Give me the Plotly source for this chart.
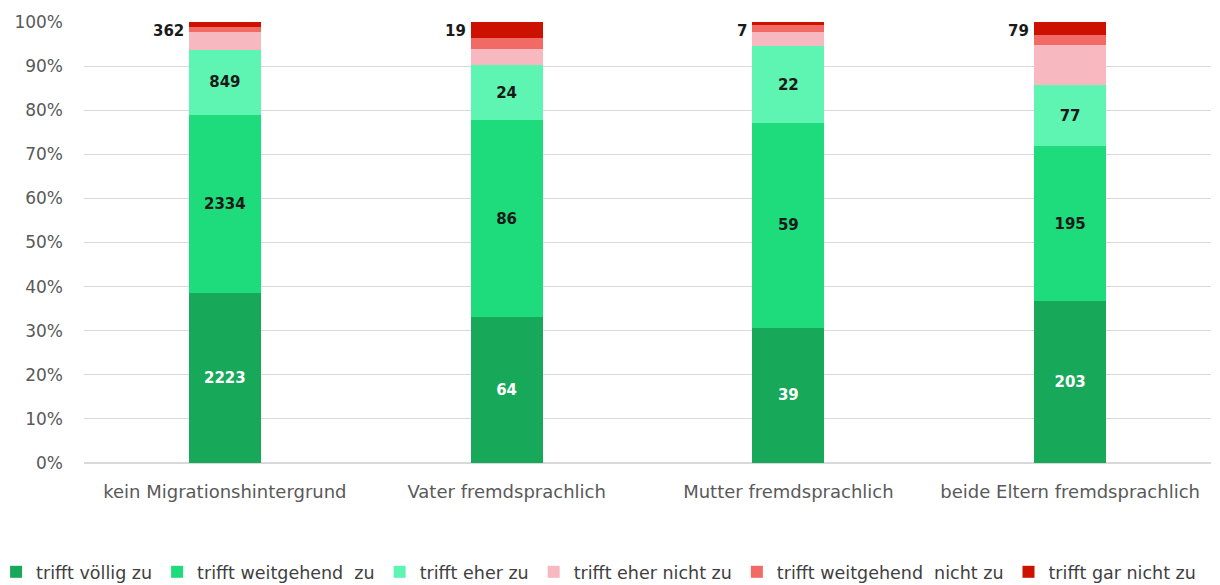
import plotly.graph_objects as go

categories = ["kein Migrationshintergrund", "Vater fremdsprachlich",
              "Mutter fremdsprachlich", "beide Eltern fremdsprachlich"]
series_names = ["trifft völlig zu", "trifft weitgehend  zu", "trifft eher zu",
                "trifft eher nicht zu", "trifft weitgehend  nicht zu", "trifft gar nicht zu"]
voellig = [2223, 64, 39, 203]
weitgehend = [2334, 86, 59, 195]
eher = [849, 24, 22, 77]
eher_nicht = [237, 7, 4, 50]
weitgehend_nicht = [63, 5, 2, 13]
gar_nicht = [62, 7, 1, 16]
ytick_vals = [0, 10, 20, 30, 40, 50, 60, 70, 80, 90, 100]
ytick_text = ["%d%%" % v for v in ytick_vals]

colors = ["#17A85A", "#1EDB7B", "#5EF4B2", "#F8B8C0", "#F26A66", "#CC1100"]
values = [voellig, weitgehend, eher, eher_nicht, weitgehend_nicht, gar_nicht]
text_colors = ["white", "#1a1a1a", "#1a1a1a"]

FONT = "DejaVu Sans"
fig = go.Figure()
for i, (name, vals, col) in enumerate(zip(series_names, values, colors)):
    kw = {}
    if i < 3:
        kw = dict(text=[str(v) for v in vals], textposition="inside",
                  insidetextanchor="middle", textangle=0,
                  textfont=dict(family=FONT, size=15, color=text_colors[i], weight="bold"))
    fig.add_trace(go.Bar(x=categories, y=vals, name=name, marker=dict(color=col, line=dict(width=0)),
                         width=0.255, **kw))

for c, a, b, d in zip(categories, eher_nicht, weitgehend_nicht, gar_nicht):
    fig.add_annotation(x=c, y=98, text="<b>%d</b>" % (a + b + d), showarrow=False,
                       xanchor="right", yanchor="middle", xshift=-39,
                       font=dict(family=FONT, size=15, color="#1a1a1a"))

# page body has an 8px margin, so the figure is sized to fit the 1220x585 window
fig.update_layout(
    barmode="stack", barnorm="percent",
    width=1212, height=577,
    margin=dict(l=76, r=9, t=14, b=122, autoexpand=False),
    plot_bgcolor="white", paper_bgcolor="white",
    font=dict(family=FONT, size=15, color="#595959"),
    showlegend=True,
    legend=dict(orientation="h", x=-0.078, xanchor="left", y=-0.247, yanchor="middle",
                font=dict(family=FONT, size=17.5, color="#404040"), traceorder="normal",
                itemwidth=30),
    xaxis=dict(showgrid=False, ticks="", tickfont=dict(size=18, color="#595959"),
               ticklabelstandoff=16, automargin=False),
    yaxis=dict(range=[0, 100], tickmode="array", tickvals=ytick_vals, ticktext=ytick_text,
               showgrid=True, automargin=False,
               gridcolor="#d9d9d9", gridwidth=1, zeroline=True, zerolinecolor="#d9d9d9",
               tickfont=dict(size=17, color="#595959"), ticklabelstandoff=20),
)
fig.write_html("out.html")
